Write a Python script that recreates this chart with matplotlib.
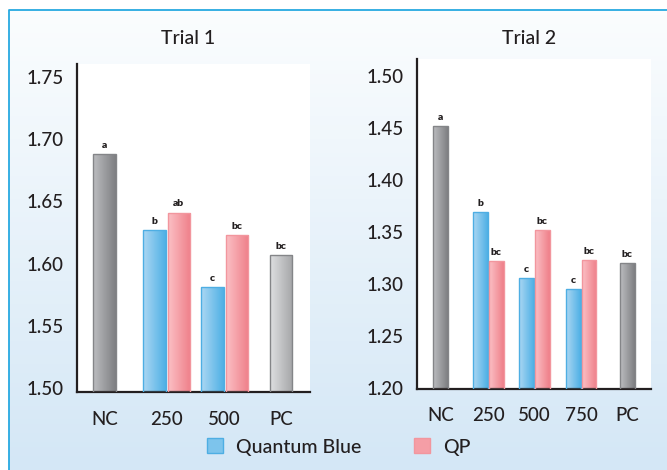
import numpy as np
import matplotlib.pyplot as plt
from matplotlib.colors import LinearSegmentedColormap
from matplotlib.patches import Patch

plt.rcParams['font.family'] = ['Lato', 'DejaVu Sans']

# data
t1_cats = ["NC", "250", "500", "PC"]
t1_nc = 1.688
t1_pc = 1.607
t1_qb = [1.627, 1.581]
t1_qp = [1.641, 1.623]
t1_sig_nc = "a"
t1_sig_pc = "bc"
t1_sig_qb = ["b", "c"]
t1_sig_qp = ["ab", "bc"]

t2_cats = ["NC", "250", "500", "750", "PC"]
t2_nc = 1.452
t2_pc = 1.320
t2_qb = [1.369, 1.306, 1.295]
t2_qp = [1.322, 1.352, 1.323]
t2_sig_nc = "a"
t2_sig_pc = "bc"
t2_sig_qb = ["b", "c", "c"]
t2_sig_qp = ["bc", "bc", "bc"]

# colours (left -> right gradient)
cm_blue = LinearSegmentedColormap.from_list("b", ["#acd7f3", "#4eb0e5"])
cm_pink = LinearSegmentedColormap.from_list("p", ["#fbc0c5", "#ef7f89"])
cm_nc = LinearSegmentedColormap.from_list("n", ["#bcbdc0", "#7e7f82"])
cm_pc = LinearSegmentedColormap.from_list("c", ["#dedfe1", "#a5a6a8"])
edge_blue = "#4eaee3"
edge_pink = "#f2969e"
edge_gray = "#848588"
ink = "#231f20"

grad = np.linspace(0, 1, 64).reshape(1, -1)

fig = plt.figure(figsize=(6.67, 4.70), dpi=100)

# page background with gradient and blue frame
bg = fig.add_axes([0, 0, 1, 1], zorder=-1)
bg_cm = LinearSegmentedColormap.from_list("bg", ["#fbfdfe", "#d4e7f6"])
bg.imshow(np.linspace(0, 1, 100).reshape(-1, 1), extent=[9, 667, 470, 10],
          aspect='auto', cmap=bg_cm, origin='upper')
bg.plot([9, 9, 667], [470, 10, 10], color="#27a9e1", lw=1.3)
bg.set_xlim(0, 667)
bg.set_ylim(470, 0)
bg.axis('off')


def grad_bar(ax, x, top, width, base, cmap, edge, sig):
    rect = ax.bar(x, top - base, width, bottom=base, facecolor='none',
                  edgecolor=edge, linewidth=1.0, zorder=3)[0]
    im = ax.imshow(grad, extent=[x - width / 2, x + width / 2, base, top],
                   aspect='auto', cmap=cmap, zorder=2, interpolation='bilinear')
    im.set_clip_path(rect)
    ax.annotate(sig, (x, top), xytext=(0, 3), textcoords='offset points',
                ha='center', va='bottom', fontsize=7.5, fontweight='heavy', color=ink)


def style(ax, ylim, xlim, yticks):
    ax.set_facecolor('white')
    for s in ['top', 'right']:
        ax.spines[s].set_visible(False)
    for s in ['left', 'bottom']:
        ax.spines[s].set_linewidth(1.6)
        ax.spines[s].set_color(ink)
    ax.set_ylim(*ylim)
    ax.set_xlim(*xlim)
    ax.set_yticks(yticks)
    ax.set_yticklabels([f"{v:.2f}" for v in yticks])
    ax.tick_params(length=0, labelsize=13.5, colors=ink)
    ax.tick_params(axis='y', pad=10)
    ax.tick_params(axis='x', pad=13)
    for lab in ax.get_xticklabels() + ax.get_yticklabels():
        lab.set_fontweight('medium')


# Trial 1
ax1 = fig.add_axes([0.1159, 0.1649, 0.3496, 0.6983])
x1 = [0, 1.057, 2.045, 3.0]
w1 = 0.38
off1 = 0.206
base1 = 1.4966
grad_bar(ax1, x1[0], t1_nc, w1, base1, cm_nc, edge_gray, t1_sig_nc)
for i in range(len(t1_qb)):
    grad_bar(ax1, x1[i + 1] - off1, t1_qb[i], w1, base1, cm_blue, edge_blue, t1_sig_qb[i])
    grad_bar(ax1, x1[i + 1] + off1, t1_qp[i], w1, base1, cm_pink, edge_pink, t1_sig_qp[i])
grad_bar(ax1, x1[3], t1_pc, w1, base1, cm_pc, edge_gray, t1_sig_pc)
ax1.set_xticks(x1)
ax1.set_xticklabels(t1_cats)
style(ax1, (base1, 1.7599), (-0.462, 3.502), np.arange(1.50, 1.76, 0.05))

# Trial 2
ax2 = fig.add_axes([0.6256, 0.1723, 0.3499, 0.7015])
x2 = [0, 1.022, 2.005, 3.01, 4.0]
w2 = 0.317
off2 = 0.17
base2 = 1.1993
grad_bar(ax2, x2[0], t2_nc, w2, base2, cm_nc, edge_gray, t2_sig_nc)
for i in range(len(t2_qb)):
    grad_bar(ax2, x2[i + 1] - off2, t2_qb[i], w2, base2, cm_blue, edge_blue, t2_sig_qb[i])
    grad_bar(ax2, x2[i + 1] + off2, t2_qp[i], w2, base2, cm_pink, edge_pink, t2_sig_qp[i])
grad_bar(ax2, x2[4], t2_pc, w2, base2, cm_nc, edge_gray, t2_sig_pc)
ax2.set_xticks(x2)
ax2.set_xticklabels(t2_cats)
style(ax2, (base2, 1.5157), (-0.504, 4.50), np.arange(1.20, 1.51, 0.05))

# panel titles
fig.text(188 / 667, 1 - 39 / 470, "Trial 1", ha='center', va='center',
         fontsize=14, fontweight='medium', color=ink)
fig.text(529 / 667, 1 - 39 / 470, "Trial 2", ha='center', va='center',
         fontsize=14, fontweight='medium', color=ink)

# legend
handles = [Patch(facecolor="#7dc4ec", edgecolor=edge_blue),
           Patch(facecolor="#f59ea6", edgecolor=edge_pink)]
fig.legend(handles, ["Quantum Blue", "QP"], loc='center', bbox_to_anchor=(0.508, 0.049),
           ncol=2, frameon=False, handlelength=0.8, handleheight=0.8,
           handletextpad=0.7, columnspacing=2.7, labelcolor=ink,
           prop={'size': 14, 'weight': 'medium'})

fig.savefig("out.png", dpi=100)
